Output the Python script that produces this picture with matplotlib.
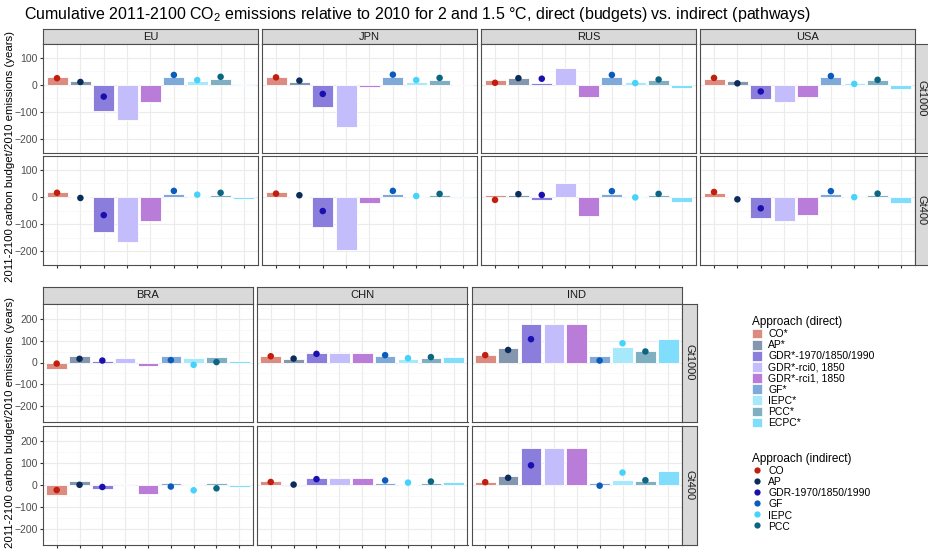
import matplotlib
matplotlib.use("Agg")
import matplotlib.pyplot as plt
from matplotlib.patches import Patch
from matplotlib.lines import Line2D

plt.rcParams['font.family'] = ['Liberation Sans', 'DejaVu Sans']
plt.rcParams['mathtext.fontset'] = 'custom'
plt.rcParams['mathtext.rm'] = 'Liberation Sans'
plt.rcParams['mathtext.default'] = 'regular'

# ---------------- data ----------------
direct_labels = ["CO*", "AP*", "GDR*-1970/1850/1990", "GDR*-rci0, 1850",
                 "GDR*-rci1, 1850", "GF*", "IEPC*", "PCC*", "ECPC*"]
direct_colors = ["#db8b80", "#8497ae", "#8b7ddb", "#c4bdfb", "#b97cd9",
                 "#7fa9d9", "#a7e9fb", "#80afc2", "#80ddfb"]
indirect_labels = ["CO", "AP", "GDR-1970/1850/1990", "GF", "IEPC", "PCC"]
indirect_colors = ["#c31d0d", "#0b2d5c", "#1a10b0", "#0b5bbd", "#45d3fb", "#0b6583"]
indirect_match = ["CO*", "AP*", "GDR*-1970/1850/1990", "GF*", "IEPC*", "PCC*"]

top_regions = ["EU", "JPN", "RUS", "USA"]
bottom_regions = ["BRA", "CHN", "IND"]
scenarios = ["Gt1000", "Gt400"]

top_yticks = [-200, -100, 0, 100]
bottom_yticks = [-200, -100, 0, 100, 200]

EU_Gt1000_direct = [27, 13, -97, -130, -64, 29, 15, 22, 1]
EU_Gt1000_indirect = [24, 10, -44, 36, 17, 29]
EU_Gt400_direct = [17, -2, -128, -167, -90, 11, 5, 8, -8]
EU_Gt400_indirect = [15, -4, -67, 22, 8, 15]

JPN_Gt1000_direct = [30, 11, -84, -157, -9, 28, 11, 19, -1]
JPN_Gt1000_indirect = [27, 15, -34, 37, 17, 25]
JPN_Gt400_direct = [19, -2, -110, -196, -23, 11, 4, 7, -5]
JPN_Gt400_indirect = [12, 6, -52, 22, 3, 11]

RUS_Gt1000_direct = [17, 23, 7, 60, -45, 28, 10, 19, -13]
RUS_Gt1000_indirect = [7, 24, 22, 36, 6, 19]
RUS_Gt400_direct = [7, 7, -10, 50, -72, 10, 3, 6, -19]
RUS_Gt400_indirect = [-11, 10, 7, 21, -2, 11]

USA_Gt1000_direct = [21, 13, -54, -64, -44, 28, 8, 18, -16]
USA_Gt1000_indirect = [25, 5, -25, 32, 3, 18]
USA_Gt400_direct = [14, 0, -78, -88, -67, 11, 2, 7, -21]
USA_Gt400_indirect = [18, -9, -42, 21, -1, 12]

BRA_Gt1000_direct = [-31, 32, 5, 23, -18, 28, 20, 25, 6]
BRA_Gt1000_indirect = [-5, 17, 9, 11, -11, 2]
BRA_Gt400_direct = [-45, 18, -17, 6, -42, 11, 6, 9, -9]
BRA_Gt400_indirect = [-22, 2, -8, -6, -23, -14]

CHN_Gt1000_direct = [32, 14, 42, 42, 43, 28, 17, 22, 26]
CHN_Gt1000_indirect = [29, 18, 40, 34, 20, 25]
CHN_Gt400_direct = [18, -3, 31, 31, 31, 12, 6, 9, 17]
CHN_Gt400_indirect = [15, 3, 28, 22, 12, 17]

IND_Gt1000_direct = [34, 68, 180, 180, 180, 29, 71, 51, 111]
IND_Gt1000_indirect = [34, 58, 108, 9, 89, 51]
IND_Gt400_direct = [17, 40, 172, 172, 172, 11, 26, 18, 66]
IND_Gt400_indirect = [14, 34, 91, -2, 58, 23]

data = {
    ("EU", "Gt1000"): (EU_Gt1000_direct, EU_Gt1000_indirect),
    ("EU", "Gt400"): (EU_Gt400_direct, EU_Gt400_indirect),
    ("JPN", "Gt1000"): (JPN_Gt1000_direct, JPN_Gt1000_indirect),
    ("JPN", "Gt400"): (JPN_Gt400_direct, JPN_Gt400_indirect),
    ("RUS", "Gt1000"): (RUS_Gt1000_direct, RUS_Gt1000_indirect),
    ("RUS", "Gt400"): (RUS_Gt400_direct, RUS_Gt400_indirect),
    ("USA", "Gt1000"): (USA_Gt1000_direct, USA_Gt1000_indirect),
    ("USA", "Gt400"): (USA_Gt400_direct, USA_Gt400_indirect),
    ("BRA", "Gt1000"): (BRA_Gt1000_direct, BRA_Gt1000_indirect),
    ("BRA", "Gt400"): (BRA_Gt400_direct, BRA_Gt400_indirect),
    ("CHN", "Gt1000"): (CHN_Gt1000_direct, CHN_Gt1000_indirect),
    ("CHN", "Gt400"): (CHN_Gt400_direct, CHN_Gt400_indirect),
    ("IND", "Gt1000"): (IND_Gt1000_direct, IND_Gt1000_indirect),
    ("IND", "Gt400"): (IND_Gt400_direct, IND_Gt400_indirect),
}

title = ("Cumulative 2011-2100 CO$_2$ emissions relative to 2010 for 2 and 1.5 \u00b0C, "
         "direct (budgets) vs. indirect (pathways)")
ylabel = "2011-2100 carbon budget/2010 emissions (years)"

# ---------------- layout ----------------
W, H = 929, 554
fig = plt.figure(figsize=(W / 100, H / 100), dpi=100)

BORDER = "#4d4d4d"
STRIP_BG = "#d9d9d9"


def add_ax(x0, y0, x1, y1):
    return fig.add_axes([x0 / W, 1 - y1 / H, (x1 - x0) / W, (y1 - y0) / H])


def style_box(ax):
    for s in ax.spines.values():
        s.set_color(BORDER)
        s.set_linewidth(0.8)


def strip_top(x0, y0, x1, y1, text):
    a = add_ax(x0, y0, x1, y1)
    a.set_facecolor(STRIP_BG)
    a.set_xticks([]); a.set_yticks([])
    style_box(a)
    a.text(0.5, 0.5, text, ha="center", va="center", fontsize=8, color="#1a1a1a",
           transform=a.transAxes)


def strip_right(x0, y0, x1, y1, text):
    a = add_ax(x0, y0, x1, y1)
    a.set_facecolor(STRIP_BG)
    a.set_xticks([]); a.set_yticks([])
    style_box(a)
    a.text(0.5, 0.5, text, ha="center", va="center", fontsize=8, color="#1a1a1a",
           rotation=-90, transform=a.transAxes)


xpos = list(range(1, len(direct_labels) + 1))
ind_pos = [direct_labels.index(m) + 1 for m in indirect_match]


def panel(ax, region, scen, ylim, yticks, show_y, show_x):
    d, ind = data[(region, scen)]
    ax.set_xlim(0.4, len(direct_labels) + 0.6)
    ax.set_ylim(*ylim)
    ax.set_xticks(xpos)
    ax.set_yticks(yticks)
    minor = [(a + b) / 2 for a, b in zip(yticks[:-1], yticks[1:])]
    minor = [yticks[0] - 50] + minor + [yticks[-1] + 50]
    ax.set_yticks(minor, minor=True)
    ax.grid(which="major", color="#ebebeb", linewidth=0.8, zorder=0)
    ax.grid(which="minor", axis="y", color="#f5f5f5", linewidth=0.5, zorder=0)
    ax.set_axisbelow(True)
    ax.bar(xpos, d, width=0.9, color=direct_colors, edgecolor="white",
           linewidth=0.6, zorder=2)
    ax.scatter(ind_pos, ind, s=22, c=indirect_colors, zorder=3, linewidths=0)
    ax.tick_params(which="minor", length=0)
    ax.tick_params(axis="y", labelsize=7.5, labelcolor="#4d4d4d", color="#333333",
                   length=2.5 if show_y else 0, labelleft=show_y, pad=1.5)
    ax.tick_params(axis="x", labelbottom=False, color="#333333",
                   length=2.5 if show_x else 0)
    style_box(ax)


# top block
top_cols = [(43, 258), (262, 477), (481, 696), (700, 915)]
top_rows = [(44, 152.5), (156, 265)]
for j, reg in enumerate(top_regions):
    x0, x1 = top_cols[j]
    strip_top(x0, 29, x1, 44, reg)
    for i, scen in enumerate(scenarios):
        y0, y1 = top_rows[i]
        ax = add_ax(x0, y0, x1, y1)
        panel(ax, reg, scen, (-213, 113), top_yticks, j == 0, i == 1)
for i, scen in enumerate(scenarios):
    y0, y1 = top_rows[i]
    strip_right(915, y0, 929, y1, scen)

# bottom block
bot_cols = [(43, 253), (257, 467.5), (471.5, 682)]
bot_rows = [(303.5, 421.5), (425.5, 545)]
for j, reg in enumerate(bottom_regions):
    x0, x1 = bot_cols[j]
    strip_top(x0, 287, x1, 303.5, reg)
    for i, scen in enumerate(scenarios):
        y0, y1 = bot_rows[i]
        ax = add_ax(x0, y0, x1, y1)
        panel(ax, reg, scen, (-273, 273), bottom_yticks, j == 0, i == 1)
for i, scen in enumerate(scenarios):
    y0, y1 = bot_rows[i]
    strip_right(682, y0, 697, y1, scen)

# titles
fig.text(24 / W, 1 - 15 / H, title, ha="left", va="center", fontsize=11.5, color="#000000")
fig.text(10 / W, 1 - 156 / H, ylabel, rotation=90, ha="center", va="center",
         fontsize=8.2, color="#000000")
fig.text(10 / W, 1 - 423 / H, ylabel, rotation=90, ha="center", va="center",
         fontsize=8.2, color="#000000")

# legends
h1 = [Patch(facecolor=c, edgecolor="white", linewidth=0.5) for c in direct_colors]
leg1 = fig.legend(h1, direct_labels, title="Approach (direct)", loc="upper left",
                  bbox_to_anchor=(752 / W, 1 - 316 / H), frameon=False, fontsize=7.5,
                  title_fontsize=8.5, handlelength=0.95, handleheight=1.05,
                  labelspacing=0.07, handletextpad=0.6, borderpad=0, borderaxespad=0,
                  alignment="left")
h2 = [Line2D([], [], marker="o", linestyle="none", markersize=4.5,
             markerfacecolor=c, markeredgewidth=0) for c in indirect_colors]
leg2 = fig.legend(h2, indirect_labels, title="Approach (indirect)", loc="upper left",
                  bbox_to_anchor=(752 / W, 1 - 453 / H), frameon=False, fontsize=7.5,
                  title_fontsize=8.5, handlelength=0.95, handleheight=1.05,
                  labelspacing=0.07, handletextpad=0.6, borderpad=0, borderaxespad=0,
                  alignment="left")

fig.savefig("out.png", dpi=100)
